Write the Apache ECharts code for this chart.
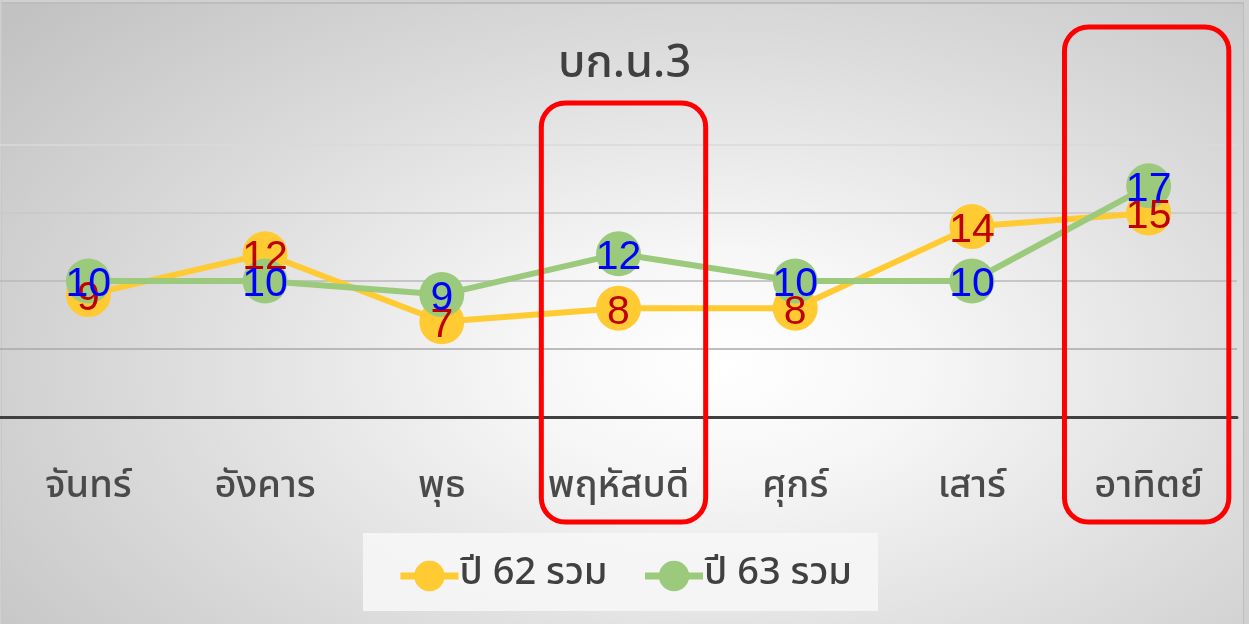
<!DOCTYPE html>
<html>
<head>
<meta charset="utf-8">
<title>บก.น.3</title>
<script src="https://cdn.jsdelivr.net/npm/echarts@6/dist/echarts.min.js"></script>
<style>
  html, body { margin: 0; padding: 0; }
  body { width: 1249px; height: 624px; overflow: hidden; background: #d0d0d0; }
  #frame {
    position: absolute; left: 1px; top: 2px; width: 1241px; height: 622px;
    border-top: 2px solid #bdbdbd; border-left: 1px solid #c8c8c8; border-right: 1px solid #bdbdbd;
    background: radial-gradient(ellipse 75% 85% at 58% 58%, #ffffff 0%, #f6f6f6 22%, #dcdcdc 60%, #c2c2c2 100%);
  }
  #chart { position: absolute; left: 0; top: 0; width: 1249px; height: 624px; }
</style>
</head>
<body>
<div id="frame"></div>
<div id="chart"></div>
<script>
// Weekday categories and the two yearly totals
const days = ['จันทร์', 'อังคาร', 'พุธ', 'พฤหัสบดี', 'ศุกร์', 'เสาร์', 'อาทิตย์'];
const year62 = [9, 12, 7, 8, 8, 14, 15];
const year63 = [10, 10, 9, 12, 10, 10, 17];
const seriesNames = ['ปี 62 รวม', 'ปี 63 รวม'];
const chartTitle = 'บก.น.3';
// Days outlined with a red frame
const highlightedDays = ['พฤหัสบดี', 'อาทิตย์'];

const thaiFont = '"Noto Sans Thai", "Noto Sans Thai UI", "Noto Sans", "DejaVu Sans", sans-serif';
const numFont = '"Liberation Sans", Arial, sans-serif';

const chart = echarts.init(document.getElementById('chart'), null, { renderer: 'canvas' });

function lineSeries(name, data, color, labelColor) {
  return {
    name: name,
    type: 'line',
    data: data,
    symbol: 'circle',
    symbolSize: 45,
    lineStyle: { color: color, width: 6 },
    itemStyle: { color: color },
    label: {
      show: true,
      position: 'inside',
      offset: [0, 4],
      color: labelColor,
      fontFamily: numFont,
      fontSize: 41
    },
    emphasis: { disabled: true },
    animation: false
  };
}

chart.setOption({
  backgroundColor: 'transparent',
  animation: false,
  title: {
    text: chartTitle,
    left: 'center',
    top: 40,
    textStyle: { fontFamily: thaiFont, fontSize: 45, fontWeight: 500, color: '#404040' }
  },
  legend: {
    data: seriesNames,
    left: 'center',
    top: 533,
    itemGap: 34,
    itemWidth: 58,
    itemHeight: 38,
    padding: [24, 26, 16, 34],
    backgroundColor: 'rgba(246,246,246,0.9)',
    lineStyle: { width: 7 },
    textStyle: { fontFamily: thaiFont, fontSize: 38, fontWeight: 500, color: '#404040', padding: [0, 0, 0, -4] }
  },
  grid: { left: 0, right: 12, top: 145, bottom: 207, containLabel: false },
  xAxis: {
    type: 'category',
    data: days,
    boundaryGap: true,
    axisLine: { lineStyle: { color: '#404040', width: 3 } },
    axisTick: { show: false },
    axisLabel: { interval: 0, fontFamily: thaiFont, fontSize: 38, fontWeight: 500, color: '#4a4a4a', margin: 53 },
    splitLine: { show: false }
  },
  yAxis: {
    type: 'value',
    min: 0,
    max: 20,
    interval: 5,
    axisLine: { show: false },
    axisTick: { show: false },
    axisLabel: { show: false },
    splitLine: { lineStyle: { color: ['#404040', '#a8a8a8', '#b8b8b8', '#c8c8c8', '#dadada'], width: 1.5 } }
  },
  series: [
    lineSeries(seriesNames[0], year62, '#ffca32', '#c00000'),
    lineSeries(seriesNames[1], year63, '#9bca7c', '#0000ff')
  ]
});

// Red rounded frames around the highlighted day columns, placed from the category axis
function drawFrames() {
  const band = chart.convertToPixel({ xAxisIndex: 0 }, days[1]) - chart.convertToPixel({ xAxisIndex: 0 }, days[0]);
  const tops = [103, 27];
  const shifts = [5, -2];
  const elements = highlightedDays.map(function (d, i) {
    const cx = chart.convertToPixel({ xAxisIndex: 0 }, d) + shifts[i];
    const w = band * 0.93;
    return {
      type: 'rect',
      shape: { x: cx - w / 2, y: tops[i], width: w, height: 522 - tops[i], r: 24 },
      style: { fill: 'none', stroke: '#ff0000', lineWidth: 5 },
      z: 100,
      silent: true
    };
  });
  chart.setOption({ graphic: elements });
}
drawFrames();
</script>
</body>
</html>
